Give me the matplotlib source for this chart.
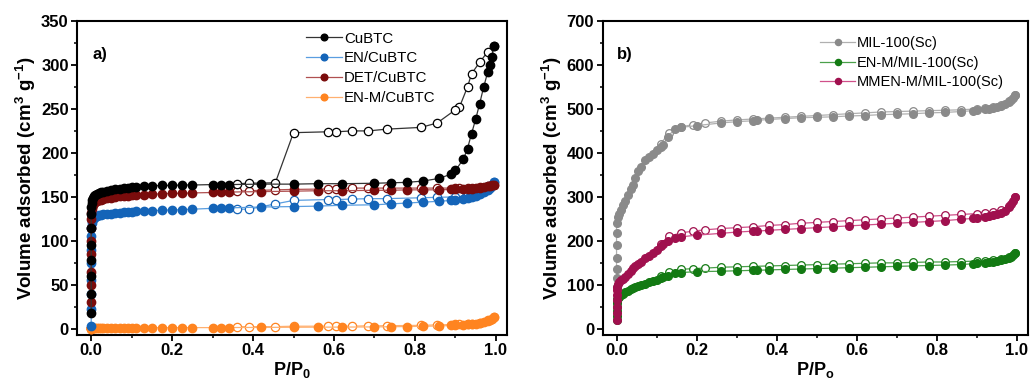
import numpy as np
import matplotlib.pyplot as plt

plt.rcParams['font.family'] = ['Liberation Sans', 'DejaVu Sans']
plt.rcParams['mathtext.fontset'] = 'custom'
plt.rcParams['mathtext.rm'] = 'Liberation Sans:bold'
plt.rcParams['mathtext.it'] = 'Liberation Sans:bold'
plt.rcParams['mathtext.bf'] = 'Liberation Sans:bold'

# ---- panel a) CuBTC series ----
p_ads_a = [0.0, 0.0, 0.0, 0.0, 0.0, 0.0, 0.0, 0.0, 0.001, 0.002, 0.004, 0.007, 0.01, 0.015,
           0.02, 0.025, 0.03, 0.04, 0.05, 0.06, 0.07, 0.08, 0.09, 0.1, 0.11, 0.13, 0.15, 0.175,
           0.2, 0.225, 0.25, 0.3, 0.32, 0.34, 0.42, 0.5, 0.56, 0.62, 0.7, 0.74, 0.78, 0.82,
           0.86, 0.89, 0.9, 0.92, 0.93, 0.94, 0.95, 0.96, 0.97, 0.98, 0.985, 0.99, 0.995]
cubtc_ads = [18, 40, 60, 78, 95, 115, 130, 138, 143, 146, 149, 151, 152, 153.5,
             154.5, 155, 156, 157, 158, 159, 159.5, 160, 160.5, 161, 161.5, 162, 162.5, 163,
             163, 163.5, 163.5, 164, 164, 164, 164.5, 164.5, 165, 165, 165.5, 166, 166.5, 168,
             171, 176, 180, 193, 205, 222, 238, 256, 275, 292, 300, 309, 322]
en_ads = [3, 22, 40, 55, 75, 90, 105, 115, 120, 123, 125, 126.5, 127.5, 128.5,
          129, 129.5, 130, 130.5, 131, 131.5, 132, 132.5, 133, 133, 133.5, 134, 134, 135,
          135, 135.5, 136, 137, 137, 137.5, 138.5, 139, 139.5, 140.5, 141, 142, 143, 144,
          145, 146, 147, 148, 149, 150, 151.5, 153, 155, 158, 160, 163, 167]
det_ads = [30, 50, 65, 85, 100, 115, 125, 132, 136, 139, 141, 143, 144, 145,
           146, 147, 147.5, 148.5, 149, 150, 150.5, 151, 151.5, 152, 152, 152.5, 153, 153.5,
           154, 154, 154.5, 155, 155, 155.5, 156, 156.5, 157, 157, 157.5, 157.5, 158, 158,
           158, 158.5, 158.5, 159, 159, 159.5, 160, 160.5, 161, 162, 162.5, 163, 164]
enm_ads = [0.2, 0.3, 0.4, 0.5, 0.6, 0.7, 0.8, 0.9, 1.0, 1.0, 1.0, 1.0, 1.1, 1.1,
           1.1, 1.1, 1.1, 1.1, 1.2, 1.2, 1.2, 1.2, 1.2, 1.2, 1.2, 1.2, 1.3, 1.3,
           1.3, 1.4, 1.4, 1.4, 1.5, 1.5, 1.6, 1.8, 1.9, 2.0, 2.2, 2.4, 2.6, 2.9,
           3.3, 3.8, 4.0, 4.5, 5.0, 5.5, 6.0, 7.0, 8.0, 9.5, 10.5, 11.5, 13]

p_des_a = [0.995, 0.98, 0.96, 0.94, 0.93, 0.91, 0.9, 0.855, 0.815, 0.73, 0.685, 0.645,
           0.605, 0.585, 0.5, 0.455, 0.39, 0.36]
cubtc_des = [322, 315, 303, 290, 275, 252, 249, 234, 229, 227, 225, 225, 224, 224, 223, 166, 165.5, 165]
en_des = [167, 162, 157, 154, 153, 151, 150, 149.5, 149, 148, 148, 147.5, 147, 147, 146, 142, 136, 136]
det_des = [164, 162, 161, 160.5, 160.5, 160, 160, 160, 160, 160, 160, 160, 159.5, 159, 158.5, 158, 157, 156.5]
enm_des = [13, 9, 7, 6, 5.5, 5, 5, 4.5, 4, 3.5, 3.5, 3, 3, 3, 3, 2.5, 2.5, 2.5]

# ---- panel b) MIL-100(Sc) series ----
p_ads_b = [0.0, 0.0, 0.0, 0.0, 0.0, 0.0, 0.0, 0.003, 0.006, 0.01, 0.015, 0.02, 0.028, 0.035,
           0.04, 0.047, 0.053, 0.06, 0.07, 0.08, 0.09, 0.1, 0.11, 0.116, 0.128, 0.146, 0.16,
           0.2, 0.26, 0.3, 0.34, 0.35, 0.38, 0.42, 0.46, 0.5, 0.54, 0.58, 0.62, 0.66, 0.7,
           0.74, 0.78, 0.82, 0.86, 0.89, 0.9, 0.92, 0.93, 0.94, 0.95, 0.96, 0.97, 0.98,
           0.985, 0.99, 0.995]
mil_ads = [95, 115, 135, 160, 190, 218, 240, 255, 262, 270, 281, 290, 304, 318,
           327, 342, 358, 368, 383, 391, 398, 406, 413, 417, 437, 455, 458,
           462, 468, 471, 473, 474, 476, 478, 480, 481, 482, 484, 485, 487, 488,
           489, 491, 492, 494, 496, 497, 499, 500, 502, 504, 507, 511, 516,
           520, 525, 531]
enm_mil_ads = [20, 30, 40, 50, 58, 64, 68, 70, 73, 77, 80, 83, 87, 90,
               92, 95, 97, 100, 103, 106, 109, 112, 115, 117, 121, 127, 128,
               130, 131, 132, 133, 133, 134, 135, 136, 137, 138, 139, 140, 141, 142,
               143, 144, 145, 146, 148, 149, 150, 151, 152, 154, 156, 158, 161,
               164, 167, 172]
mmen_ads = [20, 35, 50, 65, 78, 88, 96, 101, 106, 110, 114, 118, 125, 132,
            138, 143, 147, 153, 160, 166, 173, 180, 188, 192, 200, 206, 209,
            213, 217, 220, 222, 222, 224, 226, 228, 230, 232, 234, 236, 238, 240,
            242, 244, 246, 249, 251, 252, 254, 256, 258, 261, 264, 269, 276,
            283, 290, 300]

p_des_b = [0.995, 0.98, 0.96, 0.94, 0.92, 0.9, 0.86, 0.82, 0.78, 0.74, 0.7, 0.66, 0.62,
           0.58, 0.54, 0.5, 0.46, 0.42, 0.38, 0.34, 0.3, 0.26, 0.22, 0.19, 0.16, 0.13, 0.11]
mil_des = [531, 518, 510, 505, 502, 500, 498, 497, 496, 495, 494, 493, 491,
           489, 487, 485, 483, 481, 479, 477, 475, 472, 468, 464, 459, 445, 420]
enm_mil_des = [172, 163, 158, 156, 155, 154, 153, 152, 152, 151, 150, 150, 149,
               148, 147, 146, 145, 144, 143, 142, 141, 140, 138, 137, 135, 130, 120]
mmen_des = [300, 280, 270, 266, 264, 262, 260, 258, 256, 254, 252, 250, 248,
            246, 244, 242, 240, 237, 235, 232, 230, 228, 225, 222, 218, 210, 192]


def isotherm(ax, p_a, v_a, p_d, v_d, color, linecolor, label, ms=6):
    ax.plot(p_d, v_d, '-o', color=linecolor, lw=0.9, ms=ms, mfc='white',
            mec=color, mew=0.9, zorder=2)
    ax.plot(p_a, v_a, '-o', color=linecolor, lw=0.9, ms=ms, mfc=color,
            mec=color, label=label, zorder=3)


def style(ax, ymax, ystep):
    for s in ax.spines.values():
        s.set_linewidth(1.5)
    ax.set_xlim(-0.035, 1.027)
    ax.set_ylim(-ymax * 0.02, ymax)
    ax.set_xticks(np.arange(0, 1.01, 0.2))
    ax.set_xticks(np.arange(0.1, 1.0, 0.2), minor=True)
    ax.set_yticks(np.arange(0, ymax + 1, ystep))
    ax.set_yticks(np.arange(ystep / 2, ymax, ystep), minor=True)
    ax.tick_params(which='major', direction='out', length=4, width=1.3, labelsize=12, pad=2)
    ax.tick_params(which='minor', direction='out', length=2.5, width=1.1)
    ax.xaxis.set_major_formatter(plt.FormatStrFormatter('%.1f'))
    for t in ax.get_xticklabels() + ax.get_yticklabels():
        t.set_fontweight('bold')
    ax.set_ylabel('Volume adsorbed (cm$^3$ g$^{-1}$)', fontsize=13.5, fontweight='bold', labelpad=2)


fig = plt.figure(figsize=(10.3, 3.88), dpi=100)
ax1 = fig.add_axes([0.0748, 0.1366, 0.4172, 0.8094])
ax2 = fig.add_axes([0.585, 0.1366, 0.4126, 0.8094])

isotherm(ax1, p_ads_a, enm_ads, p_des_a, enm_des, '#ff8420', '#ffb070', 'EN-M/CuBTC')
isotherm(ax1, p_ads_a, en_ads, p_des_a, en_des, '#1464b8', '#5a9ee0', 'EN/CuBTC')
isotherm(ax1, p_ads_a, det_ads, p_des_a, det_des, '#7a0c0c', '#b05050', 'DET/CuBTC')
isotherm(ax1, p_ads_a, cubtc_ads, p_des_a, cubtc_des, '#000000', '#333333', 'CuBTC')
style(ax1, 350, 50)
ax1.set_xlabel('P/P$_0$', fontsize=13, fontweight='bold', labelpad=1)
h, l = ax1.get_legend_handles_labels()
order = [3, 1, 2, 0]
ax1.legend([h[i] for i in order], [l[i] for i in order], loc='upper left',
           bbox_to_anchor=(0.518, 0.985), frameon=False, fontsize=10.8, handlelength=2.4,
           handletextpad=0.15, labelspacing=0.38, borderaxespad=0.2, borderpad=0.2,
           markerscale=0.8)
ax1.text(0.035, 0.88, 'a)', transform=ax1.transAxes, fontsize=12, fontweight='bold')

isotherm(ax2, p_ads_b, mil_ads, p_des_b, mil_des, '#8a8a8a', '#b0b0b0', 'MIL-100(Sc)', ms=5.5)
isotherm(ax2, p_ads_b, enm_mil_ads, p_des_b, enm_mil_des, '#137a13', '#4aa04a', 'EN-M/MIL-100(Sc)', ms=5.5)
isotherm(ax2, p_ads_b, mmen_ads, p_des_b, mmen_des, '#a0104e', '#d0508a', 'MMEN-M/MIL-100(Sc)', ms=5.5)
style(ax2, 700, 100)
ax2.set_xlabel('P/P$_o$', fontsize=13, fontweight='bold', labelpad=1)
ax2.legend(loc='upper left', bbox_to_anchor=(0.498, 0.97), frameon=False, fontsize=10.5,
           handlelength=2.4, handletextpad=0.15, labelspacing=0.38, borderaxespad=0.2, borderpad=0.2,
           markerscale=0.8)
ax2.text(0.035, 0.88, 'b)', transform=ax2.transAxes, fontsize=12, fontweight='bold')

fig.savefig('out.png', dpi=100)
